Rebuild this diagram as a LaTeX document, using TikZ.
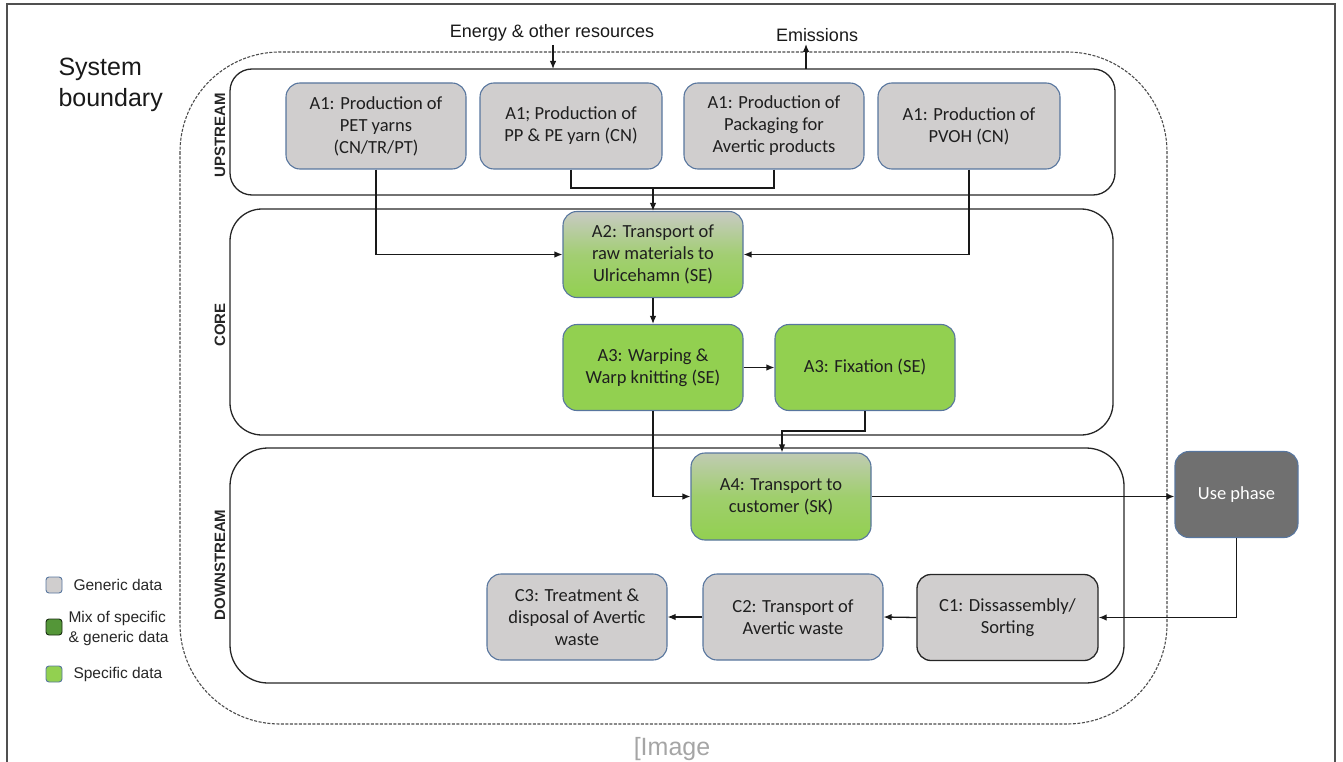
\documentclass[tikz,border=0pt]{standalone}
\usepackage{fontspec}
\setmainfont{Liberation Sans}
\newfontfamily\calfont{Carlito}
\usetikzlibrary{arrows.meta}
\definecolor{genc}{RGB}{208,206,206}
\definecolor{bordc}{RGB}{88,118,158}
\definecolor{specc}{RGB}{146,208,80}
\definecolor{mixc}{RGB}{84,150,56}
\definecolor{usec}{RGB}{112,112,112}
\definecolor{topgray}{RGB}{200,202,196}
\definecolor{framec}{RGB}{80,80,80}
\definecolor{imgc}{RGB}{165,165,165}
\tikzset{
  pbox/.style={rounded corners=14pt, draw=bordc, line width=1.1pt, minimum width=180pt, minimum height=86pt,
    align=center, inner sep=2pt, font=\calfont\fontsize{18.5}{22}\selectfont, text=black!88},
  genbox/.style={pbox, fill=genc},
  specbox/.style={pbox, fill=specc},
  mixbox/.style={pbox, top color=topgray, bottom color=specc, middle color=specc!70!topgray},
  lane/.style={draw=black!85, line width=1.3pt, inner sep=0pt},
  lanelabel/.style={rotate=90, font=\bfseries\fontsize{15}{16}\selectfont, text=black!85},
  arr/.style={line width=1.3pt, black!90, -{Latex[length=8pt,width=6.5pt]}},
  ln/.style={line width=1.3pt, black!90},
  legsq/.style={rounded corners=3pt, minimum size=16pt, inner sep=0pt, line width=0.9pt},
  legtxt/.style={anchor=west, font=\fontsize{15.5}{20}\selectfont, text=black!85, align=left},
  toptxt/.style={font=\fontsize{18}{20}\selectfont, text=black!90}
}
\begin{document}
\begin{tikzpicture}[x=1pt,y=-1pt]
\useasboundingbox (0,0) rectangle (1343,762);
% outer frame
\draw[framec, line width=2pt] (7,762) -- (7,4) -- (1335,4) -- (1335,762);
% system boundary
\draw[black!70, line width=1.1pt, dash pattern=on 3pt off 1.5pt, rounded corners=100pt] (180,52) rectangle (1167,724);
\node[anchor=north west, align=left, font=\fontsize{25}{31}\selectfont, text=black!90] (sb) at (55,55) {System\\boundary};
% lanes
\node[lane, rounded corners=22pt, minimum width=885pt, minimum height=126pt] (up) at (672.5,132) {};
\node[lane, rounded corners=32pt, minimum width=883pt, minimum height=226pt] (core) at (671.5,322) {};
\node[lane, rounded corners=38pt, minimum width=894pt, minimum height=235pt] (down) at (677,565.5) {};
\node[lanelabel] (lup) at (220,135) {UPSTREAM};
\node[lanelabel] (lcore) at (220,325) {CORE};
\node[lanelabel] (ldown) at (220,565) {DOWNSTREAM};
% top labels
\node[toptxt] (energy) at (552,33) {Energy \& other resources};
\node[toptxt] (emis) at (817,35) {Emissions};
\coordinate (ein) at (553,69);
\coordinate (eout) at (806,69);
\coordinate (eouttop) at (806,44);
\draw[arr] (energy.south -| ein) -- (ein);
\draw[arr] (eout) -- (eouttop);
% upstream boxes
\node[genbox, minimum width=180pt] (pet) at (376,126) {A1: Production of\\PET yarns\\(CN/TR/PT)};
\node[genbox, minimum width=182pt] (pp) at (571,126) {A1; Production of\\PP \& PE yarn (CN)};
\node[genbox] (pack) at (774,126) {A1: Production of\\Packaging for\\Avertic products};
\node[genbox, minimum width=182pt] (pvoh) at (969,126) {A1: Production of\\PVOH (CN)};
% core
\node[mixbox] (a2) at (653,254.5) {A2: Transport of\\raw materials to\\Ulricehamn (SE)};
\node[specbox] (a3w) at (653,367.5) {A3: Warping \&\\Warp knitting (SE)};
\node[specbox] (a3f) at (865,367.5) {A3: Fixation (SE)};
% downstream
\node[pbox, top color=topgray!85!specc, bottom color=specc, middle color=specc!75!topgray, minimum height=87pt] (a4) at (781,496.5) {A4: Transport to\\customer (SK)};
\node[pbox, fill=usec, text=white, minimum width=123pt] (use) at (1236.5,494.5) {Use phase};
\node[genbox, draw=black!85, line width=1.3pt, minimum width=181pt] (c1) at (1007.5,617.5) {C1: Dissassembly/\\Sorting};
\node[genbox] (c2) at (793,617) {C2: Transport of\\Avertic waste};
\node[genbox] (c3) at (577,617) {C3: Treatment \&\\disposal of Avertic\\waste};
% connectors
\coordinate (merge) at (653,188);
\draw[ln] (pp.south) |- (merge);
\draw[ln] (pack.south) |- (merge);
\draw[arr] (merge) -- (a2.north);
\draw[arr] (pet.south) |- (a2.west);
\draw[arr] (pvoh.south) |- (a2.east);
\draw[arr] (a2.south) -- (a3w.north);
\draw[arr] (a3w.east) -- (a3f.west);
\draw[arr] (a3w.south) |- (a4.west);
\coordinate (fx) at (865,431);
\coordinate (fx2) at (782,431);
\draw[arr] (a3f.south) -- (fx) -- (fx2) -- (fx2 |- a4.north);
\draw[arr] (a4.east) -- (a4.east -| use.west);
\draw[arr] (use.south) |- (c1.east);
\draw[arr] (c1.west) -- (c2.east);
\draw[arr] (c2.west) -- (c3.east);
% legend
\node[legsq, draw=bordc, fill=genc] (lg1) at (54,585) {};
\node[legsq, draw=black!70!mixc, fill=mixc] (lg2) at (54,627) {};
\node[legsq, draw=bordc, fill=specc] (lg3) at (54,674) {};
\node[legtxt] (lt1) at (70,585) {Generic data};
\node[legtxt] (lt2) at (65,628) {Mix of specific\\\& generic data};
\node[legtxt] (lt3) at (70,674) {Specific data};
% caption fragment
\node[anchor=base, text=imgc, font=\fontsize{25}{27}\selectfont] (img) at (672,755) {[Image};
\end{tikzpicture}
\end{document}
